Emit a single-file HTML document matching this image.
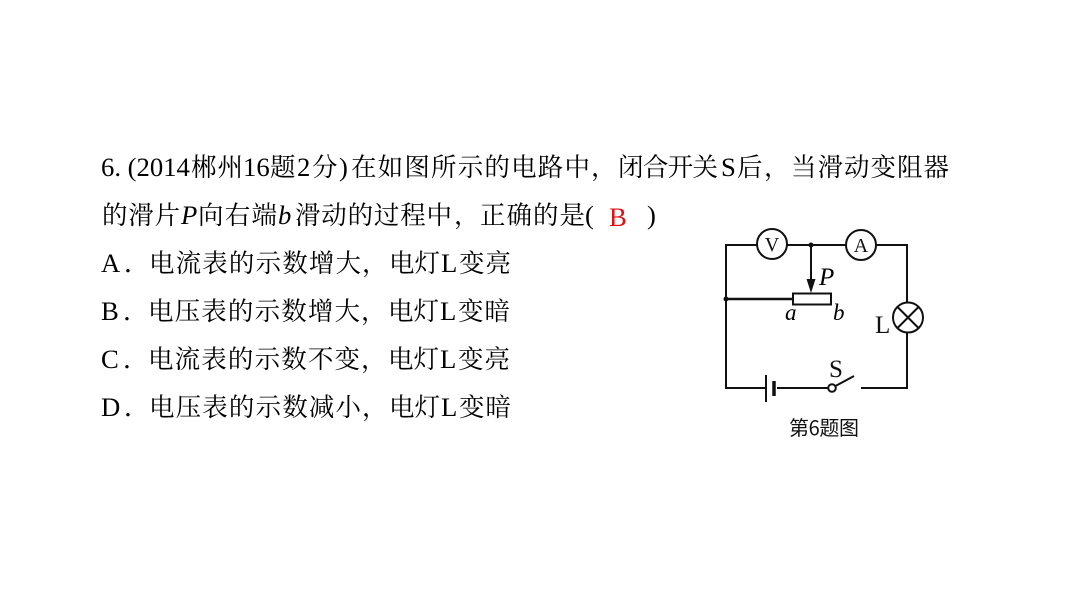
<!DOCTYPE html>
<html><head><meta charset="utf-8"><style>
html,body{margin:0;padding:0;background:#fff;width:1066px;height:600px;overflow:hidden}
svg{display:block}
.c{font-family:"Liberation Serif","Noto Serif CJK SC",serif;font-size:25.5px;fill:#000}
.l{font-family:"Liberation Serif",serif;font-size:26.67px;fill:#000}
.i{font-family:"Liberation Serif",serif;font-style:italic;fill:#000}
</style></head><body>
<svg width="1066" height="600" viewBox="0 0 1066 600" xmlns="http://www.w3.org/2000/svg">
<rect width="1066" height="600" fill="#fff"/>
<text class="l" x="101" y="176">6. (2014</text>
<text class="c" x="191" y="176" textLength="52">郴州</text>
<text class="l" x="243" y="176">16</text>
<text class="c" x="270" y="176">题</text>
<text class="l" x="297" y="176">2</text>
<text class="c" x="312" y="176">分</text>
<text class="l" x="339" y="176">)</text>
<text class="c" x="351" y="176" textLength="239">在如图所示的电路中</text>
<text class="c" x="591" y="176">，</text>
<text class="c" x="618" y="176" textLength="100">闭合开关</text>
<text class="l" x="721" y="176">S</text>
<text class="c" x="737" y="176">后</text>
<text class="c" x="764" y="176">，</text>
<text class="c" x="791" y="176" textLength="158">当滑动变阻器</text>
<text class="c" x="102" y="224" textLength="78">的滑片</text>
<text class="i" x="181" y="224" font-size="26.67">P</text>
<text class="c" x="198" y="224" textLength="79">向右端</text>
<text class="i" x="278" y="224" font-size="26.67">b</text>
<text class="c" x="295" y="224" textLength="157">滑动的过程中</text>
<text class="c" x="454" y="224">，</text>
<text class="c" x="480" y="224" textLength="105">正确的是</text>
<text class="l" x="585" y="224">(</text>
<text x="609" y="226" font-family="Liberation Serif,serif" font-size="26.67" fill="#e01010">B</text>
<text class="l" x="647" y="224">)</text>
<text class="l" x="101" y="272">A</text><text class="c" x="124" y="272">．</text>
<text class="c" x="149" y="272" textLength="212">电流表的示数增大</text>
<text class="c" x="362" y="272">，</text>
<text class="c" x="389" y="272" textLength="51">电灯</text>
<text class="l" x="441" y="272">L</text>
<text class="c" x="459" y="272" textLength="52">变亮</text>
<text class="l" x="101" y="320">B</text><text class="c" x="123" y="320">．</text>
<text class="c" x="148" y="320" textLength="212">电压表的示数增大</text>
<text class="c" x="361" y="320">，</text>
<text class="c" x="388" y="320" textLength="51">电灯</text>
<text class="l" x="440" y="320">L</text>
<text class="c" x="458" y="320" textLength="52">变暗</text>
<text class="l" x="101" y="368">C</text><text class="c" x="123" y="368">．</text>
<text class="c" x="148" y="368" textLength="212">电流表的示数不变</text>
<text class="c" x="361" y="368">，</text>
<text class="c" x="388" y="368" textLength="51">电灯</text>
<text class="l" x="440" y="368">L</text>
<text class="c" x="458" y="368" textLength="52">变亮</text>
<text class="l" x="101" y="416">D</text><text class="c" x="124" y="416">．</text>
<text class="c" x="149" y="416" textLength="212">电压表的示数减小</text>
<text class="c" x="362" y="416">，</text>
<text class="c" x="389" y="416" textLength="51">电灯</text>
<text class="l" x="441" y="416">L</text>
<text class="c" x="459" y="416" textLength="52">变暗</text>

<g fill="none" stroke="#111" stroke-width="2">
<path d="M757 245H726V388H765M777 388H828M861 388H907V333M907 302V245H876M846 245H787"/>
<circle cx="772" cy="244" r="15" fill="#fff"/>
<circle cx="861" cy="245" r="15" fill="#fff"/>
<circle cx="908" cy="317.500" r="15"/>
<path d="M897.500 307L918.500 328M918.500 307L897.500 328"/>
<path d="M811 245V282"/>
<rect x="793" y="293.500" width="38" height="11"/>
<path d="M726 299H793" stroke-width="2.400"/>
<path d="M766 375V402"/>
<path d="M774 381V396" stroke-width="3.500"/>
<circle cx="832" cy="388" r="3.800"/>
<path d="M835.500 386L854 376"/>
</g>
<circle cx="811" cy="245" r="2.500" fill="#111"/>
<circle cx="726" cy="299" r="2.500" fill="#111"/>
<path d="M806.500 279H815.500L811 293Z" fill="#111"/>
<text x="772" y="251" text-anchor="middle" font-family="Liberation Serif,serif" font-size="20" fill="#111">V</text>
<text x="861" y="252" text-anchor="middle" font-family="Liberation Serif,serif" font-size="20" fill="#111">A</text>
<text class="i" x="819" y="285" font-size="25">P</text>
<text class="i" x="785" y="320" font-size="23">a</text>
<text class="i" x="833" y="320" font-size="23">b</text>
<text x="875" y="333" font-family="Liberation Serif,serif" font-size="25" fill="#111">L</text>
<text x="829" y="377" font-family="Liberation Serif,serif" font-size="25" fill="#111">S</text>
<text x="789" y="435" font-family="Noto Sans CJK SC,sans-serif" font-size="20" fill="#111" textLength="70">第6题图</text>
</svg>
</body></html>
